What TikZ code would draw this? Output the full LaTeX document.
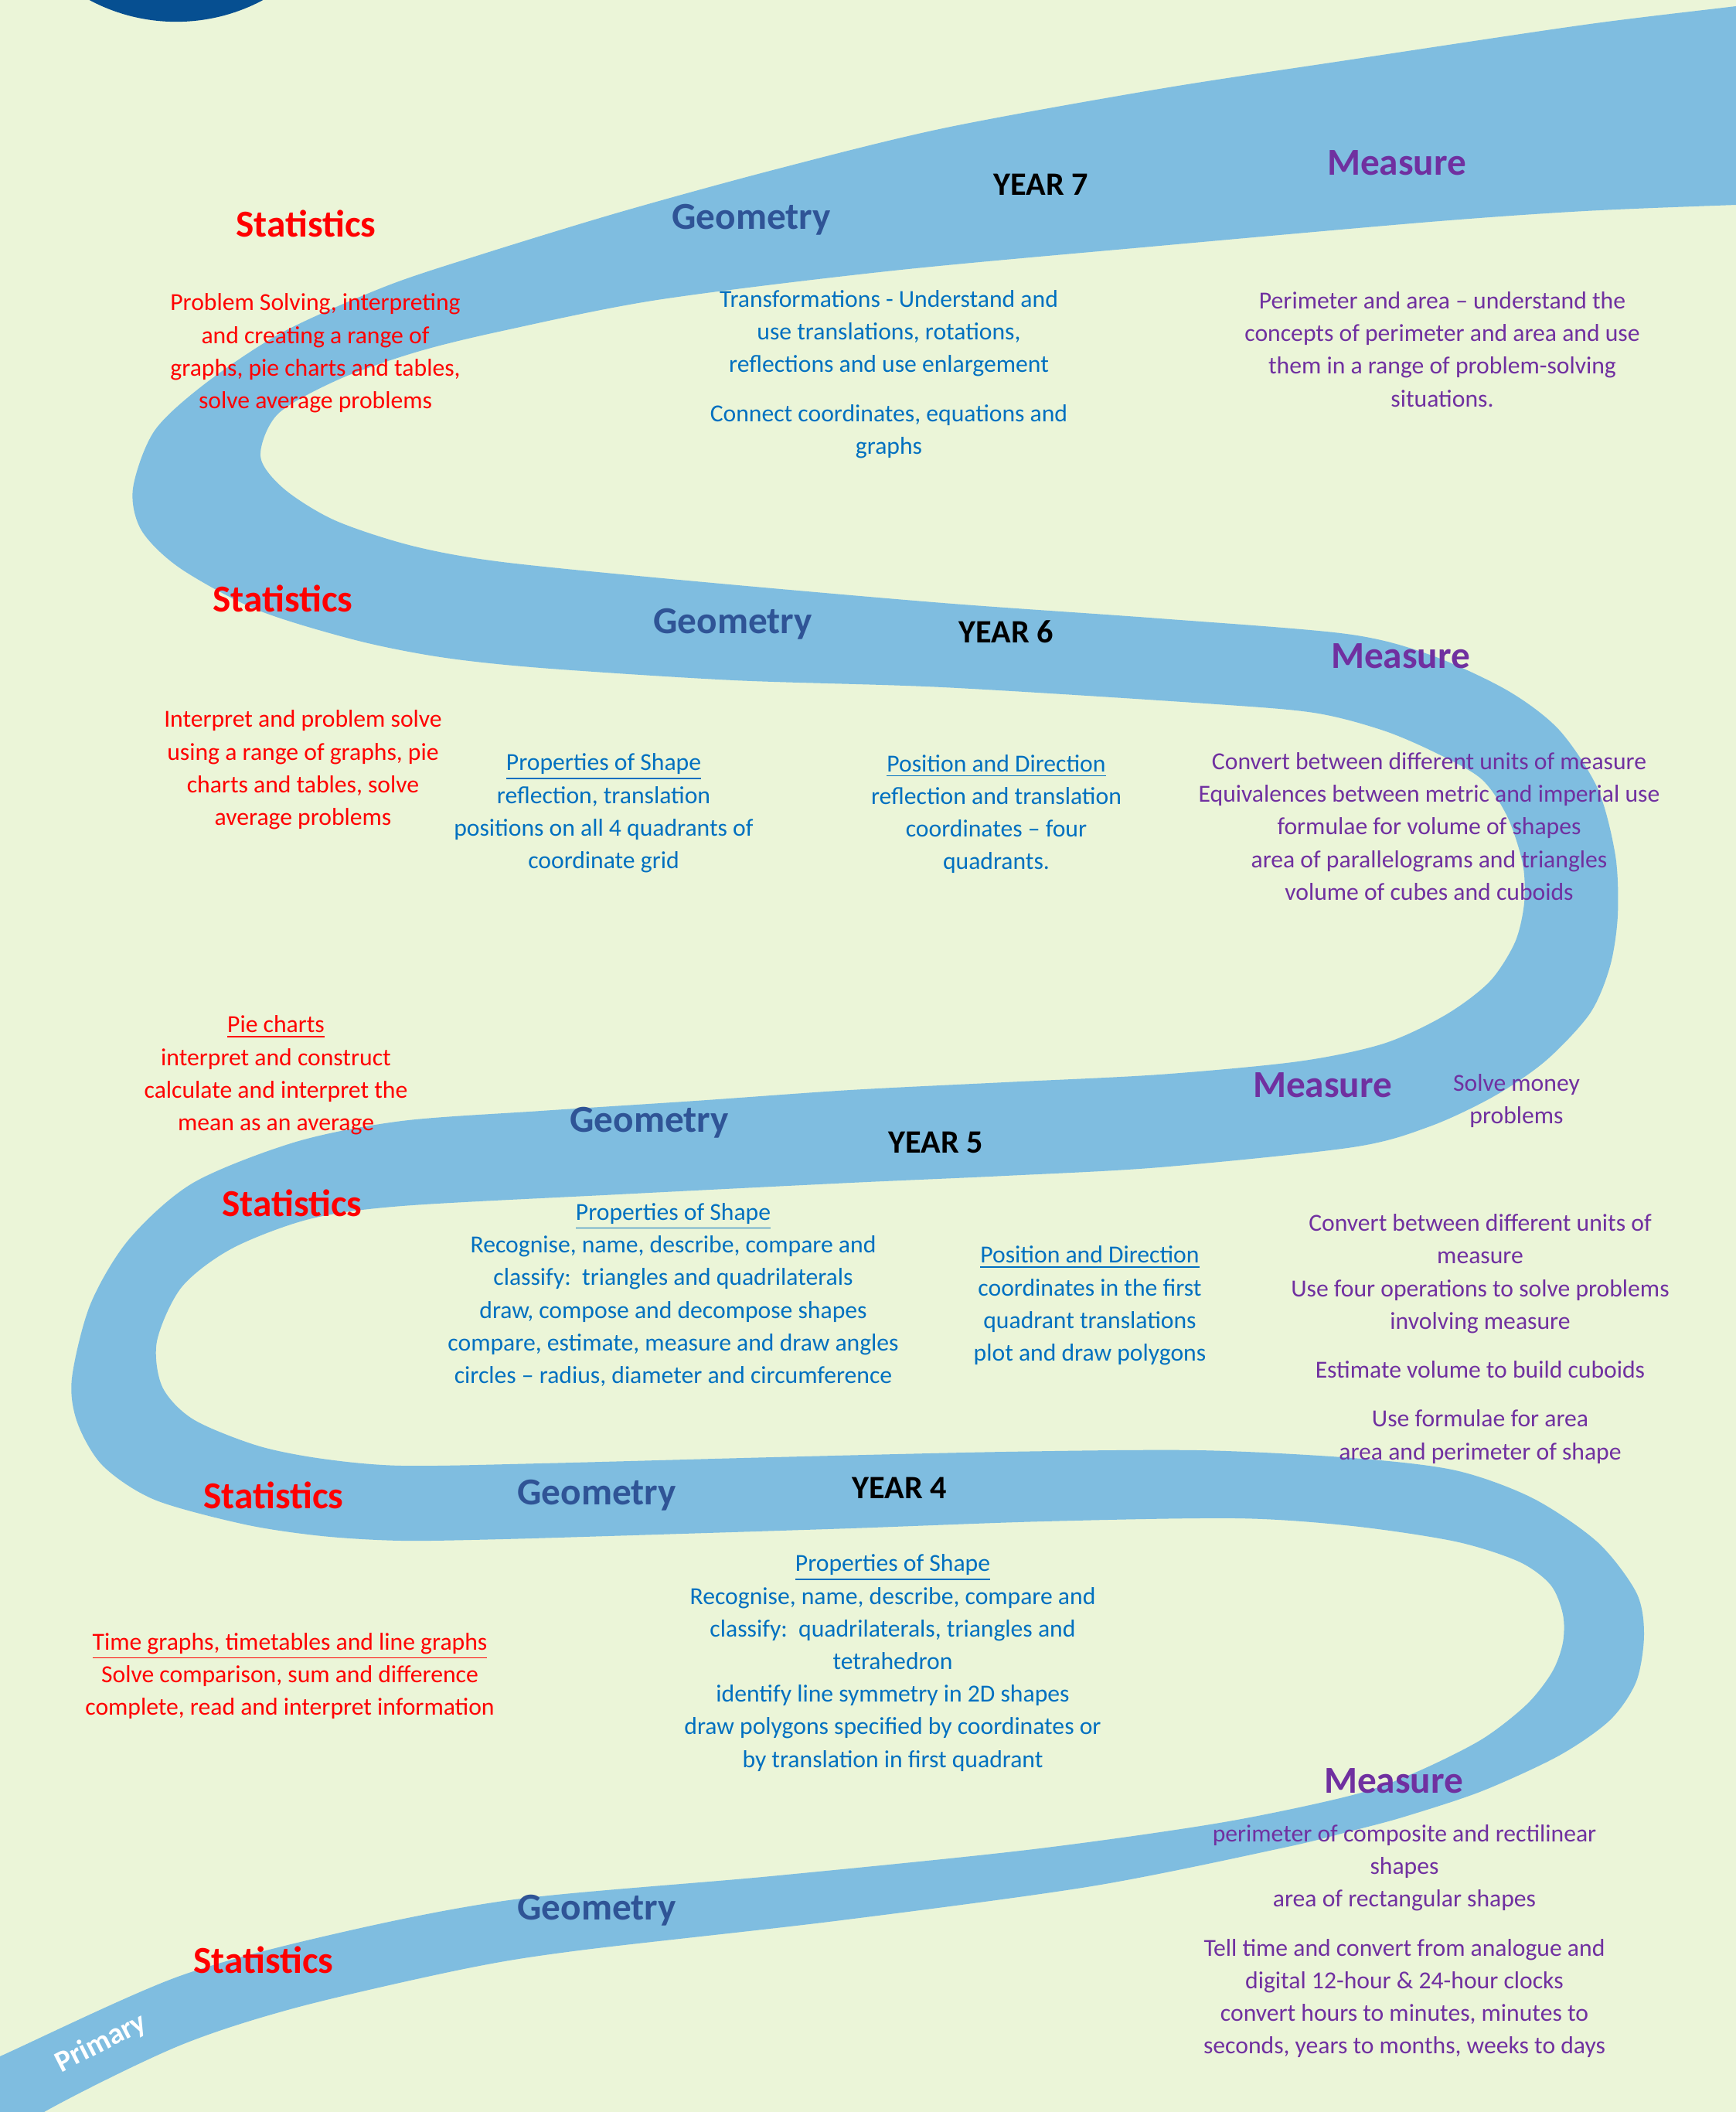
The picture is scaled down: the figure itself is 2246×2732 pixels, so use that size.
\documentclass[tikz,border=0pt]{standalone}
\usepackage{fontspec}
\setmainfont{Carlito}
\usetikzlibrary{positioning}

\definecolor{pagegreen}{RGB}{235,245,216}
\definecolor{roadblue}{RGB}{127,189,224}
\definecolor{logoblue}{RGB}{6,79,145}
\definecolor{statred}{RGB}{255,0,0}
\definecolor{geodark}{RGB}{47,84,150}
\definecolor{geoblue}{RGB}{0,112,192}
\definecolor{measpurple}{RGB}{112,48,160}

\begin{document}
\begin{tikzpicture}[x=0.01cm, y=-0.01cm,
    head/.style={font=\fontsize{14}{16}\selectfont\bfseries, inner sep=0pt},
    stathead/.style={head, text=statred},
    geohead/.style={head, text=geodark},
    meashead/.style={head, text=measpurple},
    yearlabel/.style={font=\fontsize{12}{14}\selectfont\bfseries, inner sep=0pt},
    body/.style={font=\fontsize{9}{12}\selectfont, align=center, inner sep=0pt},
    stattext/.style={body, text=statred},
    geotext/.style={body, text=geoblue},
    meastext/.style={body, text=measpurple}]

    % page and logo
    \useasboundingbox (0,0) rectangle (2246,2732);
    \fill[pagegreen] (0,0) rectangle (2246,2732);
    \clip (0,0) rectangle (2246,2732);
    \fill[logoblue] (228,-210) circle[radius=2.38cm];

    % the winding road
    \fill[roadblue] plot[smooth cycle, tension=0.5] coordinates {
        (-100,2705) (0,2660) (230,2557) (440,2500) (666,2457) (997,2427)
        (1329,2393) (1578,2358) (1750,2322) (1833,2292) (1917,2250)
        (1975,2205) (2008,2163) (2022,2125) (2022,2088) (2006,2050)
        (1965,2020) (1883,1994) (1750,1974) (1600,1964) (1350,1968)
        (1100,1977) (850,1985) (650,1991) (520,1993) (417,1987) (317,1972)
        (200,1940) (133,1896) (100,1840) (93,1783) (117,1687) (167,1603)
        (250,1530) (383,1477) (520,1450) (700,1437) (900,1424) (1100,1410)
        (1300,1400) (1500,1390) (1680,1373) (1790,1350) (1870,1313)
        (1927,1270) (1960,1219) (1972,1168) (1970,1117) (1950,1056)
        (1917,1008) (1860,975) (1790,945) (1700,922) (1560,910)
        (1220,889) (950,880) (700,864) (570,850) (460,828) (333,789)
        (233,735) (183,686) (172,632) (200,557) (267,495) (367,429)
        (500,370) (620,330) (800,275) (1000,220) (1220,166) (1500,115)
        (1742,78) (2050,32) (2246,8) (2350,-5)
        (2350,262) (2246,265) (2050,273) (1850,287) (1500,318) (1156,350)
        (850,388) (650,428) (540,455) (440,490) (360,535) (337,590)
        (367,632) (433,673) (533,706) (650,727) (900,752) (1220,780)
        (1500,800) (1742,820) (1850,847) (1950,893) (2017,944) (2067,1020)
        (2090,1107) (2093,1184) (2083,1250) (2057,1311) (2000,1372)
        (1933,1418) (1850,1457) (1750,1484) (1500,1510) (1300,1521)
        (1100,1530) (800,1545) (520,1560) (400,1577) (300,1615) (235,1665)
        (203,1735) (210,1794) (250,1836) (333,1870) (417,1887) (520,1896)
        (700,1893) (1000,1885) (1300,1878) (1550,1876) (1750,1886)
        (1883,1902) (1983,1938) (2067,1995) (2117,2060) (2127,2114)
        (2117,2175) (2083,2225) (2017,2271) (1917,2317) (1817,2350)
        (1750,2368) (1661,2390) (1412,2440) (1080,2485) (749,2523)
        (600,2547) (383,2597) (230,2647) (57,2732) (-40,2800)};

    % year 7
    \node[stathead] (stat7) at (396,289) {Statistics};
    \node[geohead] (geo7) at (972,284) {Geometry};
    \node[yearlabel] (year7) at (1347,239) {YEAR 7};
    \node[meashead] (meas7) at (1807,211) {Measure};
    \node[stattext] (stat7txt) at (408,457) {Problem Solving, interpreting\\and creating a range of\\graphs, pie charts and tables,\\solve average problems};
    \node[geotext] (geo7txt) at (1150,484) {Transformations - Understand and\\use translations, rotations,\\reflections and use enlargement\\[6pt]Connect coordinates, equations and\\graphs};
    \node[meastext] (meas7txt) at (1866,452) {Perimeter and area -- understand the\\concepts of perimeter and area and use\\them in a range of problem-solving\\situations.};

    % year 6
    \node[stathead] (stat6) at (366,774) {Statistics};
    \node[geohead] (geo6) at (948,807) {Geometry};
    \node[yearlabel] (year6) at (1302,817) {YEAR 6};
    \node[meashead] (meas6) at (1812,849) {Measure};
    \node[stattext] (stat6txt) at (392,996) {Interpret and problem solve\\using a range of graphs, pie\\charts and tables, solve\\average problems};
    \node[geotext] (geo6shape) at (781,1052) {\underline{Properties of Shape}\\reflection, translation\\positions on all 4 quadrants of\\coordinate grid};
    \node[geotext] (geo6pos) at (1289,1053) {\underline{Position and Direction}\\reflection and translation\\coordinates -- four\\quadrants.};
    \node[meastext] (meas6txt) at (1849,1069) {Convert between different units of measure\\Equivalences between metric and imperial use\\formulae for volume of shapes\\area of parallelograms and triangles\\volume of cubes and cuboids};

    % year 5
    \node[stattext] (stat5txt) at (357,1391) {\underline{Pie charts}\\interpret and construct\\calculate and interpret the\\mean as an average};
    \node[geohead] (geo5) at (840,1452) {Geometry};
    \node[yearlabel] (year5) at (1211,1478) {YEAR 5};
    \node[meashead] (meas5) at (1711,1404) {Measure};
    \node[meastext] (meas5money) at (1962,1424) {Solve money\\problems};
    \node[stathead] (stat5) at (378,1556) {Statistics};
    \node[geotext] (geo5shape) at (871,1675) {\underline{Properties of Shape}\\Recognise, name, describe, compare and\\classify:\ \ triangles and quadrilaterals\\draw, compose and decompose shapes\\compare, estimate, measure and draw angles\\circles -- radius, diameter and circumference};
    \node[geotext] (geo5pos) at (1410,1689) {\underline{Position and Direction}\\coordinates in the first\\quadrant translations\\plot and draw polygons};
    \node[meastext] (meas5txt) at (1915,1732) {Convert between different units of\\measure\\Use four operations to solve problems\\involving measure\\[6pt]Estimate volume to build cuboids\\[6pt]Use formulae for area\\area and perimeter of shape};

    % year 4
    \node[stathead] (stat4) at (354,1934) {Statistics};
    \node[geohead] (geo4) at (772,1934) {Geometry};
    \node[yearlabel] (year4) at (1164,1925) {YEAR 4};
    \node[geotext] (geo4shape) at (1155,2151) {\underline{Properties of Shape}\\Recognise, name, describe, compare and\\classify:\ \ quadrilaterals, triangles and\\tetrahedron\\identify line symmetry in 2D shapes\\draw polygons specified by coordinates or\\by translation in first quadrant};
    \node[stattext] (stat4txt) at (375,2168) {\underline{Time graphs, timetables and line graphs}\\Solve comparison, sum and difference\\complete, read and interpret information};
    \node[meashead] (meas4) at (1803,2304) {Measure};
    \node[meastext] (meas4txt) at (1817,2511) {perimeter of composite and rectilinear\\shapes\\area of rectangular shapes\\[6pt]Tell time and convert from analogue and\\digital 12-hour \& 24-hour clocks\\convert hours to minutes, minutes to\\seconds, years to months, weeks to days};

    % primary
    \node[geohead] (geo3) at (772,2471) {Geometry};
    \node[stathead] (stat3) at (341,2535) {Statistics};
    \node[font=\fontsize{11}{13}\selectfont\bfseries, text=white, rotate=27] (prim) at (131,2643) {Primary};
\end{tikzpicture}
\end{document}
